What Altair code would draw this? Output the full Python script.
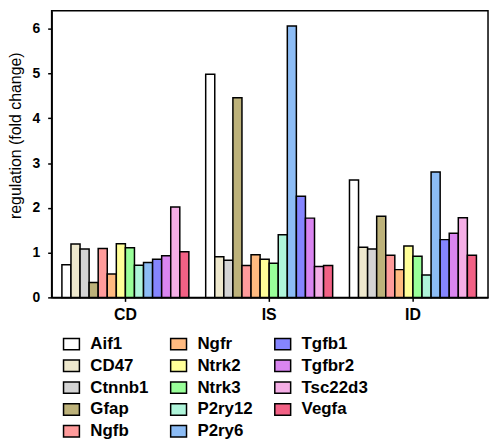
import altair as alt
import pandas as pd

groups = ["CD", "IS", "ID"]
genes = ["Aif1", "CD47", "Ctnnb1", "Gfap", "Ngfb", "Ngfr", "Ntrk2", "Ntrk3",
         "P2ry12", "P2ry6", "Tgfb1", "Tgfbr2", "Tsc22d3", "Vegfa"]
colors = ["#FFFFFF", "#EEE8CD", "#D4D4D4", "#BDB27A", "#FF9B9B", "#FFBA80", "#FFFF99",
          "#99FF99", "#AFF5DA", "#8CBCF5", "#8585FF", "#D985F0", "#F5AEE6", "#F26185"]
cd_values = [0.73, 1.19, 1.08, 0.33, 1.09, 0.52, 1.20, 1.11, 0.72, 0.78, 0.85, 0.93, 2.02, 1.02]
is_values = [4.98, 0.91, 0.83, 4.46, 0.71, 0.95, 0.85, 0.76, 1.40, 6.06, 2.26, 1.77, 0.69, 0.71]
id_values = [2.62, 1.12, 1.08, 1.81, 0.94, 0.62, 1.15, 0.92, 0.50, 2.80, 1.29, 1.43, 1.78, 0.94]
y_ticks = [0, 1, 2, 3, 4, 5, 6]

rows = []
for g, vals in zip(groups, [cd_values, is_values, id_values]):
    for gene, v in zip(genes, vals):
        rows.append({"group": g, "gene": gene, "value": v})
df = pd.DataFrame(rows)

FONT = "Liberation Sans"

chart = alt.Chart(df).mark_bar(stroke="black", strokeWidth=1.5).encode(
    x=alt.X("group:N", sort=groups,
            scale=alt.Scale(paddingInner=0.117, paddingOuter=0.076, align=0.47),
            axis=alt.Axis(title=None, labelAngle=0, labelFont=FONT, labelFontSize=16,
                          labelFontWeight="bold", labelColor="black", labelPadding=5,
                          tickSize=4, tickColor="black", tickWidth=1.5,
                          domainColor="black", domainWidth=1.5)),
    xOffset=alt.XOffset("gene:N", sort=genes,
                        scale=alt.Scale(paddingInner=0, paddingOuter=0)),
    y=alt.Y("value:Q", scale=alt.Scale(domain=[0, 6.4], nice=False, zero=True),
            axis=alt.Axis(values=y_ticks, format="d", title="regulation (fold change)",
                          grid=False, labelFont=FONT, labelFontSize=14,
                          labelFontWeight="bold", labelColor="black", labelPadding=8,
                          tickSize=4, tickColor="black", tickWidth=1.5,
                          domainColor="black", domainWidth=1.5,
                          titleFont=FONT, titleFontSize=16, titleFontWeight="normal",
                          titleColor="black", titleX=-31, titleY=125.5,
                          titleBaseline="alphabetic")),
    color=alt.Color("gene:N",
                    scale=alt.Scale(domain=genes, range=colors),
                    legend=alt.Legend(title=None, orient="none", legendX=11, legendY=327,
                                      direction="vertical", columns=3,
                                      labelFont=FONT, labelFontSize=17,
                                      labelFontWeight="bold", labelColor="black",
                                      labelOffset=10, columnPadding=19, rowPadding=4,
                                      symbolType="M-1,-0.72H1V0.72H-1Z", symbolSize=256,
                                      symbolStrokeColor="black", symbolStrokeWidth=1.5,
                                      symbolOpacity=1, padding=0, gridAlign="each")),
).properties(
    width=440, height=289,
    autosize=alt.AutoSizeParams(type="none"),
    padding={"left": 44, "top": 1, "right": 2, "bottom": 142},
).configure_view(
    stroke="black", strokeWidth=1.5
)

chart.save("out.html", embed_options={"renderer": "svg", "actions": False})
